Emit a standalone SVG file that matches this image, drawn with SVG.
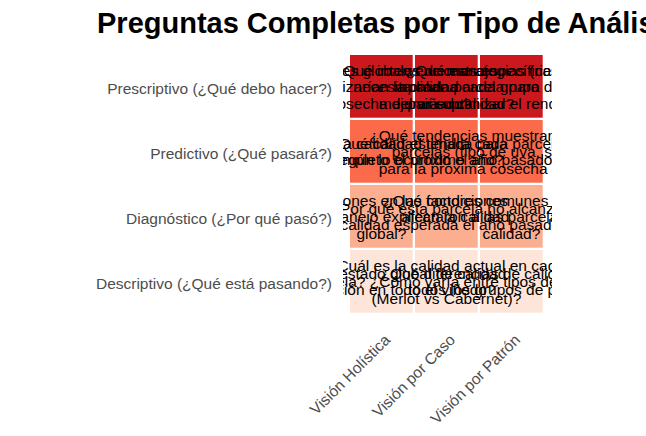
<svg xmlns="http://www.w3.org/2000/svg" width="646" height="436" viewBox="0 0 646 436">
<style>
.title{font-family:"Liberation Sans",Arial,sans-serif;font-weight:bold;font-size:29px;fill:#000}
.ylab{font-family:"Liberation Sans",Arial,sans-serif;font-size:15.5px;fill:#4D4D4D;text-anchor:end}
.xlab{font-family:"Liberation Sans",Arial,sans-serif;font-size:15.5px;fill:#4D4D4D;text-anchor:end}
.cell{font-family:"Liberation Sans",Arial,sans-serif;font-size:15.5px;fill:#000;text-anchor:middle}
.presc{fill:#CB181D}
.pred{fill:#FB6A4A}
.diag{fill:#FCAE91}
.desc{fill:#FEE5D9}
</style>
<defs>
<clipPath id="panel"><rect x="343" y="47" width="209" height="273"/></clipPath>
</defs>
<rect x="0" y="0" width="646" height="436" fill="#FFFFFF"/>
<text class="title" x="97" y="33">Preguntas Completas por Tipo de Análisis</text>

<g id="y-axis">
<text class="ylab" x="332" y="94.2">Prescriptivo (¿Qué debo hacer?)</text>
<text class="ylab" x="332" y="159.1">Predictivo (¿Qué pasará?)</text>
<text class="ylab" x="332" y="224.1">Diagnóstico (¿Por qué pasó?)</text>
<text class="ylab" x="332" y="289">Descriptivo (¿Qué está pasando?)</text>
</g>

<g id="x-axis">
<text class="xlab" transform="translate(391,341) rotate(-45)">Visión Holística</text>
<text class="xlab" transform="translate(456,341) rotate(-45)">Visión por Caso</text>
<text class="xlab" transform="translate(521,341) rotate(-45)">Visión por Patrón</text>
</g>

<g id="tiles">
<rect id="tile-presc-hol" class="presc" x="350" y="55" width="62.7" height="62.7"/>
<rect id="tile-presc-caso" class="presc" x="415" y="55" width="62.7" height="62.7"/>
<rect id="tile-presc-pat" class="presc" x="480" y="55" width="62.7" height="62.7"/>
<rect id="tile-pred-hol" class="pred" x="350" y="120" width="62.7" height="62.7"/>
<rect id="tile-pred-caso" class="pred" x="415" y="120" width="62.7" height="62.7"/>
<rect id="tile-pred-pat" class="pred" x="480" y="120" width="62.7" height="62.7"/>
<rect id="tile-diag-hol" class="diag" x="350" y="185" width="62.7" height="62.7"/>
<rect id="tile-diag-caso" class="diag" x="415" y="185" width="62.7" height="62.7"/>
<rect id="tile-diag-pat" class="diag" x="480" y="185" width="62.7" height="62.7"/>
<rect id="tile-desc-hol" class="desc" x="350" y="250" width="62.7" height="62.7"/>
<rect id="tile-desc-caso" class="desc" x="415" y="250" width="62.7" height="62.7"/>
<rect id="tile-desc-pat" class="desc" x="480" y="250" width="62.7" height="62.7"/>
</g>

<g id="cell-texts" clip-path="url(#panel)">
<g id="presc-hol"><text class="cell"><tspan x="381.4" y="76">¿Qué ajustes globales de manejo</tspan><tspan x="381.4" y="92.3">optimizarían la calidad</tspan><tspan x="381.4" y="108.6">de la cosecha del viñedo?</tspan></text></g>
<g id="presc-caso"><text class="cell"><tspan x="446.4" y="76">¿Qué intervenciones específicas</tspan><tspan x="446.4" y="92.3">necesita cada parcela para</tspan><tspan x="446.4" y="108.6">mejorar su calidad?</tspan></text></g>
<g id="presc-pat"><text class="cell"><tspan x="511.4" y="76">¿Qué estrategias (riego, poda)</tspan><tspan x="511.4" y="92.3">aplicar a cada grupo de parcelas</tspan><tspan x="511.4" y="108.6">para optimizar el rendimiento?</tspan></text></g>

<g id="pred-hol"><text class="cell"><tspan x="381.4" y="149.2">¿Cuál sería la calidad estimada para</tspan><tspan x="381.4" y="165.4">el viñedo completo el próximo año?</tspan></text></g>
<g id="pred-caso"><text class="cell"><tspan x="446.4" y="149.2">¿Qué calidad tendrá cada parcela</tspan><tspan x="446.4" y="165.4">según lo ocurrido el año pasado?</tspan></text></g>
<g id="pred-pat"><text class="cell"><tspan x="511.4" y="141">¿Qué tendencias muestran los grupos de</tspan><tspan x="511.4" y="157.3">parcelas (tipo de uva, suelo, clima)</tspan><tspan x="511.4" y="173.6">para la próxima cosecha en el viñedo?</tspan></text></g>

<g id="diag-hol"><text class="cell"><tspan x="381.4" y="206">¿Qué variaciones en las condiciones</tspan><tspan x="381.4" y="222.3">de clima y manejo explican la calidad</tspan><tspan x="381.4" y="238.6">global?</tspan></text></g>
<g id="diag-caso"><text class="cell"><tspan x="446.4" y="214.2">¿Por qué esta parcela no alcanzó</tspan><tspan x="446.4" y="230.4">la calidad esperada el año pasado?</tspan></text></g>
<g id="diag-pat"><text class="cell"><tspan x="511.4" y="206">¿Qué factores comunes entre grupos</tspan><tspan x="511.4" y="222.3">afectaron a las parcelas de baja</tspan><tspan x="511.4" y="238.6">calidad?</tspan></text></g>

<g id="desc-hol"><text class="cell"><tspan x="381.4" y="279.2">¿Cuál es el estado global de calidad</tspan><tspan x="381.4" y="295.4">de producción en todo el viñedo?</tspan></text></g>
<g id="desc-caso"><text class="cell"><tspan x="446.4" y="271">¿Cuál es la calidad actual en cada</tspan><tspan x="446.4" y="287.3">parcela? ¿Cómo varía entre tipos de uva</tspan><tspan x="446.4" y="303.6">(Merlot vs Cabernet)?</tspan></text></g>
<g id="desc-pat"><text class="cell"><tspan x="511.4" y="279.2">¿Qué diferencias de calidad hay entre</tspan><tspan x="511.4" y="295.4">todos los grupos de parcelas?</tspan></text></g>
</g>

<g id="connectors"></g>
</svg>
